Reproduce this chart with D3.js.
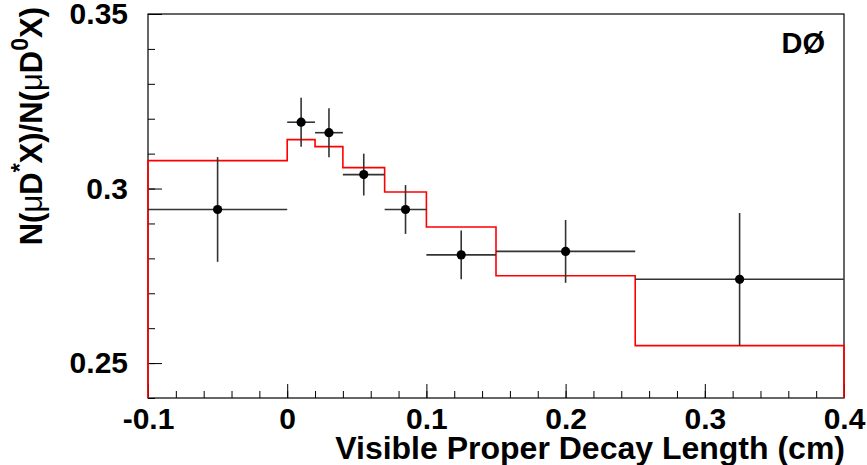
<!DOCTYPE html>
<html>
<head>
<meta charset="utf-8">
<script src="https://cdn.jsdelivr.net/npm/d3@7"></script>
<style>
  html, body { margin: 0; padding: 0; background: #fff; }
  svg { display: block; }
  text { font-family: "Liberation Sans", Arial, Helvetica, sans-serif; font-weight: bold; fill: #000; }
</style>
</head>
<body>
<svg id="chart" width="867" height="465"></svg>
<script>
// ---- data ----
const binEdges = [-0.1, 0, 0.02, 0.04, 0.07, 0.1, 0.15, 0.25, 0.4];
const mcValues = [0.308, 0.314, 0.312, 0.306, 0.299, 0.289, 0.275, 0.255];
const dataX    = [-0.05, 0.01, 0.03, 0.055, 0.085, 0.125, 0.2, 0.325];
const dataY    = [0.294, 0.319, 0.316, 0.304, 0.294, 0.281, 0.282, 0.274];
const dataXLo  = [-0.1, 0, 0.02, 0.04, 0.07, 0.1, 0.15, 0.25];
const dataXHi  = [0, 0.02, 0.04, 0.07, 0.1, 0.15, 0.25, 0.4];
const dataYErr = [0.015, 0.007, 0.007, 0.006, 0.007, 0.007, 0.009, 0.019];
const xTicks = [-0.1, 0, 0.1, 0.2, 0.3, 0.4];
const xTickLabels = ["-0.1", "0", "0.1", "0.2", "0.3", "0.4"];
const yTicks = [0.25, 0.3, 0.35];
const yTickLabels = ["0.25", "0.3", "0.35"];
const xDomain = [-0.1, 0.4];
const yDomain = [0.24, 0.35];

// ---- layout ----
const L = 148, R = 844, T = 14, B = 398;
const svg = d3.select("#chart");
const x = d3.scaleLinear().domain(xDomain).range([L, R]);
const y = d3.scaleLinear().domain(yDomain).range([B, T]);

// minor ticks
const xMinor = d3.range(-0.1, 0.4001, 0.02).map(v => +v.toFixed(3));
const yMinor = d3.range(0.24, 0.3501, 0.01).map(v => +v.toFixed(3));

svg.append("g").attr("transform", `translate(0,${B})`)
  .call(d3.axisBottom(x).tickValues(xMinor).tickSize(-7).tickFormat(""))
  .call(g => g.select(".domain").remove())
  .call(g => g.selectAll("line").attr("stroke", "#000").attr("stroke-width", 1));

svg.append("g").attr("transform", `translate(0,${B})`)
  .call(d3.axisBottom(x).tickValues(xTicks).tickSize(-14).tickPadding(10)
        .tickFormat((d, i) => xTickLabels[i]))
  .call(g => g.select(".domain").remove())
  .call(g => g.selectAll("line").attr("stroke", "#000").attr("stroke-width", 1))
  .call(g => g.selectAll("text").attr("font-size", 30).attr("font-family", null).attr("fill", "#000"));

svg.append("g").attr("transform", `translate(${L},0)`)
  .call(d3.axisLeft(y).tickValues(yMinor).tickSize(-7).tickFormat(""))
  .call(g => g.select(".domain").remove())
  .call(g => g.selectAll("line").attr("stroke", "#000").attr("stroke-width", 1));

svg.append("g").attr("transform", `translate(${L},0)`)
  .call(d3.axisLeft(y).tickValues(yTicks).tickSize(-14).tickPadding(20)
        .tickFormat((d, i) => yTickLabels[i]))
  .call(g => g.select(".domain").remove())
  .call(g => g.selectAll("line").attr("stroke", "#000").attr("stroke-width", 1))
  .call(g => g.selectAll("text").attr("font-size", 30).attr("font-family", null).attr("fill", "#000"));

// frame
svg.append("rect").attr("x", L).attr("y", T).attr("width", R - L).attr("height", B - T)
  .attr("fill", "none").attr("stroke", "#000").attr("stroke-width", 1.2);

// MC histogram (red)
const histPts = [[binEdges[0], yDomain[0]]];
mcValues.forEach((v, i) => { histPts.push([binEdges[i], v]); histPts.push([binEdges[i + 1], v]); });
histPts.push([binEdges[binEdges.length - 1], yDomain[0]]);
svg.append("path")
  .attr("d", d3.line().x(d => x(d[0])).y(d => y(d[1]))(histPts))
  .attr("fill", "none").attr("stroke", "#ff0000").attr("stroke-width", 1.6);

// data points with error bars
const pts = dataX.map((v, i) => ({x: v, y: dataY[i], lo: dataXLo[i], hi: dataXHi[i], e: dataYErr[i]}));
const eg = svg.append("g").attr("stroke", "#333").attr("stroke-width", 1.6);
eg.selectAll("line.h").data(pts).join("line").attr("class", "h")
  .attr("x1", d => x(d.lo)).attr("x2", d => x(d.hi))
  .attr("y1", d => y(d.y)).attr("y2", d => y(d.y));
eg.selectAll("line.v").data(pts).join("line").attr("class", "v")
  .attr("x1", d => x(d.x)).attr("x2", d => x(d.x))
  .attr("y1", d => y(d.y - d.e)).attr("y2", d => y(d.y + d.e));
svg.append("g").selectAll("circle").data(pts).join("circle")
  .attr("cx", d => x(d.x)).attr("cy", d => y(d.y)).attr("r", 4.6).attr("fill", "#000");

// axis titles
svg.append("text").attr("x", 845).attr("y", 459).attr("text-anchor", "end")
  .attr("font-size", 32).text("Visible Proper Decay Length (cm)");

const yt = svg.append("text").attr("transform", "translate(42,7) rotate(-90)")
  .attr("text-anchor", "end").attr("font-size", 31);
yt.append("tspan").text("N(");
yt.append("tspan").attr("font-weight", "normal").text("μ");
yt.append("tspan").text("D");
yt.append("tspan").attr("font-size", 23).attr("dy", -14).text("*");
yt.append("tspan").attr("dy", 14).text("X)/N(");
yt.append("tspan").attr("font-weight", "normal").text("μ");
yt.append("tspan").text("D");
yt.append("tspan").attr("font-size", 23).attr("dy", -14).text("0");
yt.append("tspan").attr("dy", 14).text("X)");

// experiment label
svg.append("text").attr("x", 825).attr("y", 53).attr("text-anchor", "end")
  .attr("font-size", 29).text("DØ");
</script>
</body>
</html>
